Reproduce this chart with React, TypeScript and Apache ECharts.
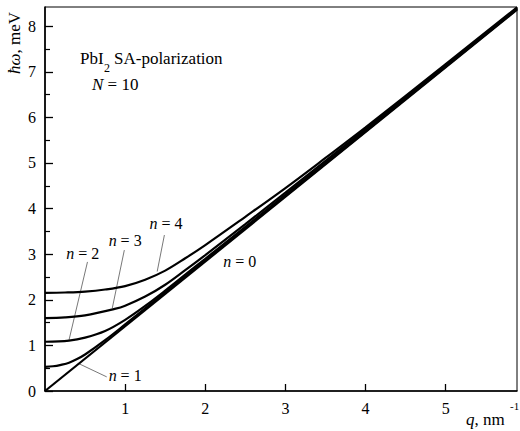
import React, { useEffect, useRef } from "react";
import * as echarts from "echarts";

// Axis ranges and ticks
const X_MIN = 0;
const X_MAX = 5.89;
const Y_MIN = 0;
const Y_MAX = 8.42;
const xTickValues = [1, 2, 3, 4, 5];
const yTickValues = [0, 1, 2, 3, 4, 5, 6, 7, 8];

// n = 0 (straight line)
const n0Q = [0, 5.89];
const n0W = [0, 8.36];

// n = 1
const n1Q = [0, 0.1, 0.2, 0.3, 0.4, 0.5, 0.75, 1.0, 1.5, 2.0, 3.0, 4.0, 5.0, 5.89];
const n1W = [0.53, 0.542, 0.574, 0.62, 0.7, 0.8, 1.115, 1.46, 2.16, 2.865, 4.28, 5.695, 7.112, 8.374];

// n = 2
const n2Q = [0, 0.3, 0.5, 0.75, 1.0, 1.25, 1.5, 1.75, 2.0, 2.5, 3.0, 4.0, 5.0, 5.89];
const n2W = [1.08, 1.106, 1.17, 1.315, 1.56, 1.865, 2.2, 2.55, 2.9, 3.6, 4.3, 5.71, 7.125, 8.384];

// n = 3
const n3Q = [0, 0.25, 0.5, 0.87, 1.0, 1.25, 1.5, 1.75, 2.0, 2.5, 3.0, 4.0, 5.0, 5.89];
const n3W = [1.6, 1.615, 1.66, 1.8, 1.87, 2.07, 2.33, 2.65, 2.98, 3.66, 4.35, 5.74, 7.14, 8.395];

// n = 4
const n4Q = [0, 0.25, 0.5, 0.75, 1.0, 1.25, 1.5, 1.75, 2.0, 2.5, 3.0, 3.5, 4.0, 5.0, 5.89];
const n4W = [2.15, 2.16, 2.18, 2.225, 2.3, 2.44, 2.64, 2.91, 3.2, 3.82, 4.45, 5.11, 5.78, 7.17, 8.41];

// Curve labels (text, label anchor q, w; leader from q,w to q,w)
const curveLabelText = ["0", "1", "2", "3", "4"];
const curveLabelQ = [2.43, 1.0, 0.47, 1.0, 1.51];
const curveLabelW = [2.85, 0.33, 3.02, 3.31, 3.68];
const leaderFromQ = [NaN, 0.77, 0.53, 0.99, 1.49];
const leaderFromW = [NaN, 0.31, 2.83, 3.09, 3.42];
const leaderToQ = [NaN, 0.41, 0.3, 0.84, 1.4];
const leaderToW = [NaN, 0.61, 1.12, 1.82, 2.62];

const FONT = "Liberation Serif, Times New Roman, Times, serif";

const zip = (q: number[], w: number[]) => q.map((v, i) => [v, w[i]]);

export default function App() {
  const ref = useRef<HTMLDivElement>(null);
  useEffect(() => {
    if (!ref.current) return;
    const chart = echarts.init(ref.current, null, { renderer: "svg" });
    const curves = [
      zip(n0Q, n0W),
      zip(n1Q, n1W),
      zip(n2Q, n2W),
      zip(n3Q, n3W),
      zip(n4Q, n4W),
    ];
    const leaderSeries = curveLabelText
      .map((_, i) => i)
      .filter((i) => !isNaN(leaderFromQ[i]))
      .map((i) => ({
        type: "line",
        data: [
          [leaderFromQ[i], leaderFromW[i]],
          [leaderToQ[i], leaderToW[i]],
        ],
        showSymbol: false,
        silent: true,
        lineStyle: { color: "#555", width: 0.8 },
        z: 1,
      }));
    chart.setOption({
      animation: false,
      backgroundColor: "#fff",
      textStyle: { fontFamily: FONT },
      grid: {
        left: 45,
        right: 3,
        top: 7,
        bottom: 40,
        show: true,
        borderColor: "#000",
        borderWidth: 1,
        backgroundColor: "transparent",
      },
      xAxis: {
        type: "value",
        min: X_MIN,
        max: X_MAX,
        interval: 1,
        axisLine: { show: true, onZero: false, lineStyle: { color: "#000", width: 1.6 } },
        axisTick: {
          show: true,
          inside: true,
          length: 7,
          lineStyle: { color: "#000", width: 1.3 },
          customValues: xTickValues,
        },
        axisLabel: {
          color: "#000",
          fontFamily: FONT,
          fontSize: 16,
          margin: 9,
          customValues: xTickValues,
        },
        splitLine: { show: false },
      },
      yAxis: {
        type: "value",
        min: Y_MIN,
        max: Y_MAX,
        interval: 1,
        axisLine: { show: true, onZero: false, lineStyle: { color: "#000", width: 1.6 } },
        axisTick: {
          show: true,
          inside: true,
          length: 8,
          lineStyle: { color: "#000", width: 1.3 },
          customValues: yTickValues,
        },
        minorTick: {
          show: true,
          splitNumber: 2,
          length: 5,
          lineStyle: { color: "#000", width: 1.2 },
        },
        axisLabel: {
          color: "#000",
          fontFamily: FONT,
          fontSize: 16,
          margin: 9,
          customValues: yTickValues,
        },
        splitLine: { show: false },
      },
      series: [
        ...curves.map((d) => ({
          type: "line",
          data: d,
          showSymbol: false,
          smooth: 0.35,
          silent: true,
          lineStyle: { color: "#000", width: 2.2 },
          z: 3,
        })),
        ...leaderSeries,
      ],
    });

    const texts: any[] = [];
    curveLabelText.forEach((t, i) => {
      const p = chart.convertToPixel({ gridIndex: 0 }, [curveLabelQ[i], curveLabelW[i]]);
      texts.push({
        type: "text",
        x: p[0],
        y: p[1],
        style: {
          text: "{i|n}{r| = " + t + "}",
          align: "center",
          verticalAlign: "middle",
          rich: {
            i: { fontFamily: FONT, fontSize: 16, fontStyle: "italic", fill: "#000" },
            r: { fontFamily: FONT, fontSize: 16, fill: "#000" },
          },
        },
      });
    });

    chart.setOption({
      graphic: [
        ...texts,
        // Y axis name
        {
          type: "text",
          x: 14,
          y: 43,
          rotation: Math.PI / 2,
          style: {
            text: "{i|ħω}{r|, meV}",
            align: "center",
            verticalAlign: "middle",
            rich: {
              i: { fontFamily: FONT, fontSize: 17, fontStyle: "italic", fill: "#000" },
              r: { fontFamily: FONT, fontSize: 17, fill: "#000" },
            },
          },
        },
        // X axis name
        {
          type: "text",
          x: 466,
          y: 419,
          style: {
            text: "{i|q}{r|, nm}",
            align: "left",
            verticalAlign: "middle",
            rich: {
              i: { fontFamily: FONT, fontSize: 17, fontStyle: "italic", fill: "#000" },
              r: { fontFamily: FONT, fontSize: 17, fill: "#000" },
            },
          },
        },
        {
          type: "text",
          x: 510,
          y: 406,
          style: { text: "-1", fontFamily: FONT, fontSize: 11, fill: "#000", align: "left", verticalAlign: "middle" },
        },
        // Title block
        {
          type: "text",
          x: 80,
          y: 58,
          style: { text: "PbI", fontFamily: FONT, fontSize: 17, fill: "#000", align: "left", verticalAlign: "middle" },
        },
        {
          type: "text",
          x: 104,
          y: 68,
          style: { text: "2", fontFamily: FONT, fontSize: 12, fill: "#000", align: "left", verticalAlign: "middle" },
        },
        {
          type: "text",
          x: 114,
          y: 58,
          style: { text: "SA-polarization", fontFamily: FONT, fontSize: 17, fill: "#000", align: "left", verticalAlign: "middle" },
        },
        {
          type: "text",
          x: 92,
          y: 84,
          style: {
            text: "{i|N}{r| = 10}",
            align: "left",
            verticalAlign: "middle",
            rich: {
              i: { fontFamily: FONT, fontSize: 17, fontStyle: "italic", fill: "#000" },
              r: { fontFamily: FONT, fontSize: 17, fill: "#000" },
            },
          },
        },
      ],
    });

    return () => chart.dispose();
  }, []);
  return (
    <div
      ref={ref}
      style={{ position: "fixed", left: 0, top: 0, width: 520, height: 431, background: "#fff" }}
    />
  );
}
